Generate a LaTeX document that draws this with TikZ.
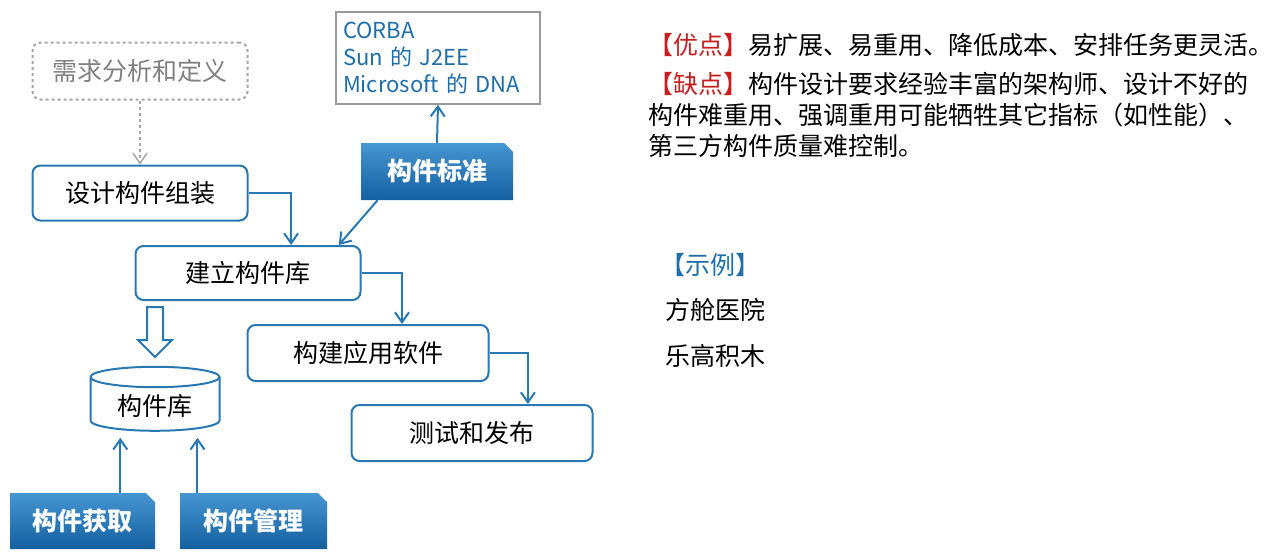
\documentclass[tikz,border=0pt]{standalone}
\usepackage{fontspec}
\setmainfont{Noto Sans CJK SC}
\usetikzlibrary{calc,positioning,shapes.geometric,arrows.meta}
\definecolor{lineblue}{RGB}{40,120,180}
\definecolor{tagtop}{RGB}{70,150,210}
\definecolor{tagbot}{RGB}{20,95,160}
\definecolor{txtblue}{RGB}{30,110,170}
\definecolor{ptred}{RGB}{200,30,30}
\tikzset{
  stepbox/.style={draw=lineblue, line width=2pt, rounded corners=8pt, fill=white, font=\fontsize{25}{28}\selectfont},
  flow/.style={draw=lineblue, line width=2pt, -{Straight Barb[length=10pt,width=14pt]}},
  tag/.style={font=\fontsize{25}{28}\selectfont\bfseries, text=white},
}
\newcommand{\tagbox}[5]{% name, x1, y1, x2, y2
  \shade[top color=tagtop, bottom color=tagbot]
    (#2,#3) -- (#4-9,#3) -- (#4,#3+9) -- (#4,#5) -- (#2,#5) -- cycle;
  \node[tag, minimum width=#4pt-#2pt, minimum height=#5pt-#3pt, inner sep=0pt] (#1) at ($(#2,#3)!0.5!(#4,#5)$) {};}
\begin{document}
\begin{tikzpicture}[x=1pt, y=-1pt]
  \useasboundingbox (0,0) rectangle (1280,557);

  % Left flow
  \node[stepbox, draw=gray!70, dashed, text=gray, minimum width=215pt, minimum height=57pt] (req) at (140,71) {需求分析和定义};
  \node[draw=gray!80, line width=1.5pt, minimum width=204pt, minimum height=92pt, text=txtblue, align=left,
        text width=190pt, font=\fontsize{22}{27}\selectfont] (std) at (438,58) {CORBA\\Sun 的 J2EE\\Microsoft 的 DNA};
  \node[stepbox, minimum width=215pt, minimum height=55pt] (design) at (140,193) {设计构件组装};
  \node[stepbox, minimum width=225pt, minimum height=54pt] (build) at (248,273) {建立构件库};
  \node[stepbox, minimum width=241pt, minimum height=56pt] (app) at (368,353) {构建应用软件};
  \node[stepbox, minimum width=241pt, minimum height=56pt] (test) at (472,433) {测试和发布};
  \node[cylinder, shape border rotate=90, aspect=0.25, draw=lineblue, line width=2pt,
        minimum width=129pt, minimum height=64pt, font=\fontsize{25}{28}\selectfont] (lib) at (155,406) {构件库};

  % Tags
  \tagbox{tstd}{361}{143}{513}{200}
  \node[tag] at (tstd) {构件标准};
  \tagbox{tget}{10}{493}{155}{549}
  \node[tag] at (tget) {构件获取};
  \tagbox{tman}{180}{493}{327}{549}
  \node[tag] at (tman) {构件管理};

  % Connectors
  \draw[flow, draw=gray!70, dashed, line width=1.5pt] (req.south) -- (design.north);
  \draw[flow] (design.east) -| ($(build.north west)!0.69!(build.north east)$);
  \draw[flow] ($(tstd.south west)!0.11!(tstd.south east)$) -- ($(build.north west)!0.9!(build.north east)$);
  \draw[flow] (tstd.north) -- (std.south);
  \draw[flow] (build.east) -| ($(app.north west)!0.64!(app.north east)$);
  \draw[flow] (app.east) -| ($(test.north west)!0.73!(test.north east)$);
  \draw[flow] ($(tget.north west)!0.76!(tget.north east)$) -- ++(0,-55);
  \draw[flow] ($(tman.north west)!0.12!(tman.north east)$) -- ++(0,-55);
  \draw[draw=lineblue, line width=2pt, fill=white]
    (147,307) -- (163,307) -- (163,340) -- (172,340) -- (155,357) -- (138,340) -- (147,340) -- cycle;

  % Right text
  \node[anchor=west, inner sep=0pt, font=\fontsize{25}{28}\selectfont] (pro) at (648,45) {\textcolor{ptred}{【优点】}易扩展、易重用、降低成本、安排任务更灵活。};
  \node[anchor=north west, inner sep=0pt, align=left, font=\fontsize{25}{31}\selectfont] (con) at (648,72)
    {\textcolor{ptred}{【缺点】}构件设计要求经验丰富的架构师、设计不好的\\构件难重用、强调重用可能牺牲其它指标（如性能）、\\第三方构件质量难控制。};
  \node[anchor=west, inner sep=0pt, text=txtblue, font=\fontsize{25}{28}\selectfont] (ex) at (660,265) {【示例】};
  \node[anchor=west, inner sep=0pt, font=\fontsize{25}{28}\selectfont] (ex1) at (665,310) {方舱医院};
  \node[anchor=west, inner sep=0pt, font=\fontsize{25}{28}\selectfont] (ex2) at (665,356) {乐高积木};
\end{tikzpicture}
\end{document}
